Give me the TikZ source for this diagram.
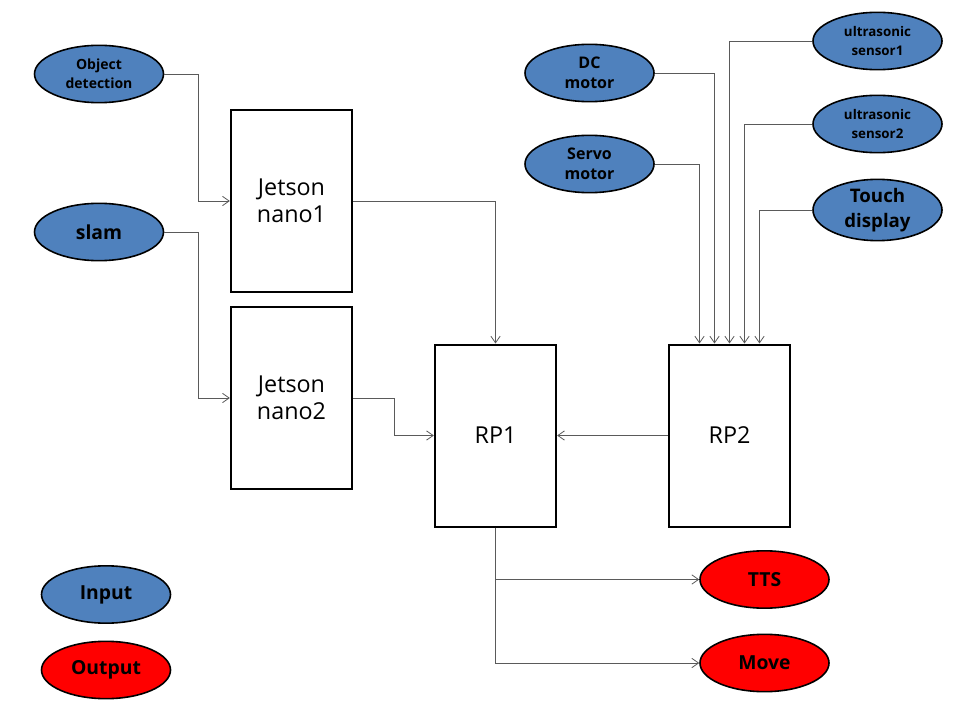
\documentclass[tikz,border=0pt]{standalone}
\usepackage{fontspec}
\setmainfont{Open Sans}
\usetikzlibrary{shapes.geometric,arrows.meta}

\definecolor{inblue}{RGB}{79,129,189}
\definecolor{outred}{RGB}{255,0,0}
\definecolor{wiregray}{RGB}{90,90,90}

\tikzset{
  unit/.style={draw, line width=1.5pt, minimum width=91pt, minimum height=136.5pt, inner sep=0pt, align=center, font=\fontsize{17.5}{20}\selectfont},
  inport/.style={ellipse, draw, line width=1.2pt, fill=inblue, minimum width=96.75pt, minimum height=43pt, inner sep=0pt, align=center, font=\bfseries\fontsize{14.5}{17}\selectfont},
  outport/.style={inport, fill=outred},
  wire/.style={draw=wiregray, line width=0.6pt, -{Straight Barb[length=5pt,width=7pt]}}
}

\begin{document}
\begin{tikzpicture}[x=0.75pt,y=0.75pt,yscale=-1]
\useasboundingbox (0,0) rectangle (960,720);

% inputs on the left
\node[inport, font=\bfseries\fontsize{10.5}{14}\selectfont] (objdet) at (99,74) {Object\\detection};
\node[inport] (slam) at (99,232) {slam};

% jetson boards
\node[unit] (jetson1) at (291.5,201) {Jetson\\nano1};
\node[unit] (jetson2) at (291.5,398) {Jetson\\nano2};

% raspberry pis
\node[unit] (rp1) at (495.5,435.5) {RP1};
\node[unit] (rp2) at (729.5,435.5) {RP2};

% inputs on the right
\node[inport, font=\bfseries\fontsize{12}{15}\selectfont] (dcmotor) at (589.5,73) {DC\\motor};
\node[inport, font=\bfseries\fontsize{12}{15}\selectfont] (servo) at (589.5,164) {Servo\\motor};
\node[inport, font=\bfseries\fontsize{10}{14}\selectfont] (usonic1) at (877.5,41) {ultrasonic\\sensor1};
\node[inport, font=\bfseries\fontsize{10}{14}\selectfont] (usonic2) at (877.5,124) {ultrasonic\\sensor2};
\node[inport, font=\bfseries\fontsize{14}{18.5}\selectfont] (touch) at (877.5,210) {Touch\\display};

% outputs
\node[outport] (tts) at (764.5,579.5) {TTS};
\node[outport] (move) at (764.5,663) {Move};

% legend
\node[inport] (leginput) at (106,594.5) {Input};
\node[outport] (legoutput) at (106,670) {Output};

% connections
\draw[wire] (objdet.east) -- ++(34,0) |- (jetson1.west);
\draw[wire] (slam.east) -- ++(34,0) |- (jetson2.west);
\draw[wire] (jetson1.east) -| (rp1.north);
\draw[wire] (jetson2.east) -- ++(41,0) |- (rp1.west);
\draw[wire] (rp2.west) -- (rp1.east);
\draw[wire] (rp1.south) |- (tts.west);
\draw[wire] (rp1.south) |- (move.west);

\foreach \src/\dx in {servo/-22.5pt, dcmotor/-11.25pt}
  \draw[wire] (\src.east) -| ([xshift=\dx]rp2.north);
\foreach \src/\dx in {usonic1/0pt, usonic2/11.25pt, touch/22.5pt}
  \draw[wire] (\src.west) -| ([xshift=\dx]rp2.north);

\end{tikzpicture}
\end{document}
